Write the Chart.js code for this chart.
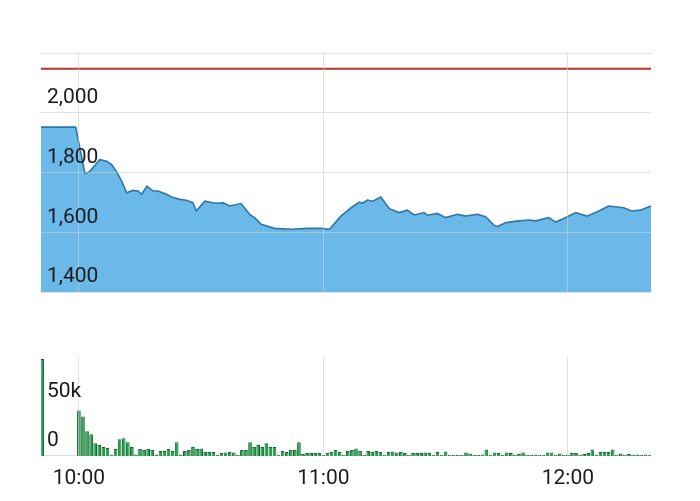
<!DOCTYPE html>
<html>
<head>
<meta charset="utf-8">
<script src="https://cdn.jsdelivr.net/npm/chart.js@4/dist/chart.umd.min.js"></script>
<style>
    html, body { margin: 0; padding: 0; background: #fff; }
    body { width: 700px; height: 501px; position: relative; overflow: hidden; }
    canvas { position: absolute; left: 0; }
    #priceChart { top: 0; }
    #volumeChart { top: 300px; }
</style>
</head>
<body>
<canvas id="priceChart" width="700" height="300"></canvas>
<canvas id="volumeChart" width="700" height="201"></canvas>
<script>
// Time axis in minutes from 10:00
const axisStart = -9.3;
const axisEnd = 140.4;
const timeTicks = [0, 60, 120];
const timeLabels = ['10:00', '11:00', '12:00'];

// Price
const priceMinutes = [-9.3, -0.8, 1.5, 2.7, 5.1, 6.8, 8, 9.2, 10.5, 11.7, 13.3, 14.5, 15.4, 16.7, 18.2, 19.4,
    21.5, 23.1, 24.7, 26.4, 28, 28.8, 30.9, 32.9, 34.5, 35.3, 37, 39.8, 41.9, 43.1, 44.7, 48, 52.1, 56.2,
    59.4, 61.5, 64.3, 66.8, 68.8, 69.6, 70.8, 72.1, 74.1, 76.2, 78.6, 80.6, 82.3, 84.7, 85.5, 88, 90, 92.9,
    94.9, 97.8, 99.8, 101.9, 102.7, 104.7, 105.6, 108, 110.5, 112.1, 115.3, 117, 119, 121.9, 124.7, 127.6,
    130, 133.7, 135.7, 137.8, 140.4];
const prices = [1952, 1952, 1796, 1804, 1843, 1838, 1827, 1804, 1771, 1732, 1740, 1738, 1727, 1754, 1738, 1738,
    1727, 1716, 1710, 1707, 1699, 1671, 1704, 1699, 1697, 1699, 1688, 1696, 1660, 1649, 1627, 1613, 1610, 1613,
    1613, 1610, 1654, 1682, 1701, 1697, 1708, 1704, 1718, 1679, 1666, 1674, 1658, 1666, 1657, 1663, 1649, 1660,
    1654, 1660, 1652, 1623, 1619, 1632, 1634, 1638, 1641, 1638, 1649, 1634, 1646, 1666, 1654, 1671,
    1688, 1682, 1671, 1674, 1688];
const prevClose = 2147;
const priceTicks = [1400, 1600, 1800, 2000, 2200];

// Volume per minute (thousands), first bar at 9:51
const volumeStart = -9;
const volumes = [98, 0.6, 0.6, 0.6, 0.6, 0.6, 0.6, 0.6, 0.6,
    46, 40, 25, 22, 13, 11, 9, 8, 1.5, 7, 17, 18, 14, 9, 1.5, 7, 6, 7, 6, 1.5,
    5, 5, 7, 5, 14, 1.5, 5, 6, 9, 7, 7.5, 4, 4, 4, 1, 3, 3.5, 4, 3.5, 1,
    6, 6, 14, 9, 11, 9, 13, 9, 9, 1, 5, 4, 6, 6, 14, 2, 3, 3, 3, 3,
    1, 3, 4, 6, 4, 1, 5, 6, 7.5, 5, 1, 5, 4, 5, 4, 1, 4, 4.5, 3.5, 4,
    3, 1, 3, 3, 3, 3.5, 3, 1, 4, 1, 4.5, 1, 1, 1, 1, 3.5, 2.5, 1, 1, 1.5,
    6.5, 1, 3.5, 3, 1, 3.5, 3, 1, 2, 3.5, 1, 1, 1.5, 1, 1, 3.5, 3.5, 1, 2.5, 1,
    1, 3, 3, 1, 2, 3, 6.5, 1, 4, 4, 4, 6.5, 1, 2.5, 1, 2, 1, 1.5, 1, 1.5, 1];
const volumeTicks = [0, 50];
const volumeTickLabels = ['0', '50k'];

const labelFont = { family: 'Roboto', size: 21 };
const labelColor = '#1b1b1b';
const gridColor = 'rgba(205, 205, 205, 0.6)';

// keep the chart area exactly where layout.padding puts it
function noPadding(scale) {
    scale.paddingTop = 0;
    scale.paddingBottom = 0;
    scale.paddingLeft = 0;
    scale.paddingRight = 0;
}

function timeAxis(axisHeight) {
    return {
        type: 'linear',
        min: axisStart,
        max: axisEnd,
        offset: false,
        afterBuildTicks: function(scale) {
            scale.ticks = timeTicks.map(v => ({ value: v }));
        },
        afterFit: function(scale) {
            scale.height = axisHeight;
            noPadding(scale);
        },
        border: { display: false },
        grid: { color: gridColor, drawTicks: false, offset: false, z: 1 },
        ticks: {
            display: axisHeight > 0,
            autoSkip: false,
            maxRotation: 0,
            padding: 10,
            color: labelColor,
            font: labelFont,
            z: 1,
            callback: function(value) {
                return timeLabels[timeTicks.indexOf(value)];
            }
        }
    };
}

function valueAxis(min, max, tickValues, labelFor, showGrid) {
    return {
        min: min,
        max: max,
        afterBuildTicks: function(scale) {
            scale.ticks = tickValues.map(v => ({ value: v }));
        },
        afterFit: function(scale) {
            scale.width = 0;
            noPadding(scale);
        },
        border: { display: false },
        grid: { display: showGrid, color: gridColor, drawTicks: false, z: 1 },
        ticks: {
            mirror: true,
            padding: 6,
            labelOffset: -15,
            color: labelColor,
            font: labelFont,
            z: 2,
            callback: labelFor
        }
    };
}

function initCharts() {
    // Price chart (area)
    const priceCtx = document.getElementById('priceChart').getContext('2d');
    new Chart(priceCtx, {
        type: 'line',
        data: {
            datasets: [
                {
                    label: 'Prev close',
                    data: [{ x: axisStart, y: prevClose }, { x: axisEnd, y: prevClose }],
                    borderColor: '#c0302b',
                    borderWidth: 2,
                    pointRadius: 0,
                    fill: false
                },
                {
                    label: 'Price',
                    data: priceMinutes.map((m, i) => ({ x: m, y: prices[i] })),
                    borderColor: '#2f77a6',
                    borderWidth: 1.6,
                    backgroundColor: '#6ab9e8',
                    pointRadius: 0,
                    tension: 0,
                    fill: 'start'
                }
            ]
        },
        options: {
            responsive: false,
            animation: false,
            layout: { padding: { left: 41, right: 49, top: 53, bottom: 8 } },
            plugins: { legend: { display: false }, tooltip: { enabled: false } },
            scales: {
                x: timeAxis(0),
                y: valueAxis(1400, 2200, priceTicks, function(value) {
                    return value === 2200 ? '' : value.toLocaleString('en-US');
                }, true)
            }
        }
    });

    // Volume chart (bars)
    const volumeCtx = document.getElementById('volumeChart').getContext('2d');
    new Chart(volumeCtx, {
        type: 'bar',
        data: {
            datasets: [{
                label: 'Volume',
                data: volumes.map((v, i) => ({ x: volumeStart + i, y: v })),
                backgroundColor: '#1f9e4b',
                borderColor: '#12692f',
                borderWidth: 1,
                barPercentage: 0.95,
                categoryPercentage: 0.95
            }]
        },
        options: {
            responsive: false,
            animation: false,
            layout: { padding: { left: 41, right: 49, top: 57, bottom: 0 } },
            plugins: { legend: { display: false }, tooltip: { enabled: false } },
            scales: {
                x: timeAxis(45),
                y: valueAxis(0, 100, volumeTicks, function(value) {
                    return volumeTickLabels[volumeTicks.indexOf(value)];
                }, false)
            }
        }
    });
}

document.addEventListener('DOMContentLoaded', function() {
    initCharts();
});
</script>
</body>
</html>
